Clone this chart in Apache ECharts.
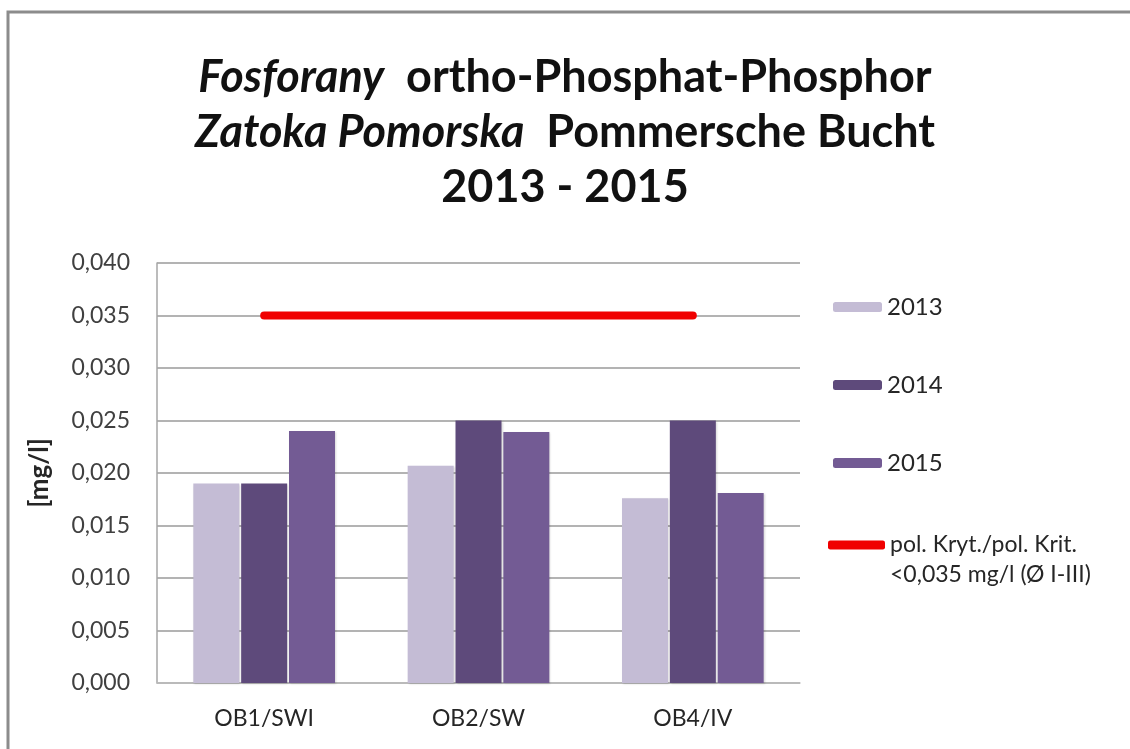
<!DOCTYPE html>
<html>
<head>
<meta charset="utf-8">
<title>Fosforany ortho-Phosphat-Phosphor</title>
<script src="https://cdn.jsdelivr.net/npm/echarts@6/dist/echarts.min.js"></script>
<style>
    html, body { margin: 0; padding: 0; background: #fff; }
    #chart { width: 1130px; height: 749px; }
</style>
</head>
<body>
<div id="chart"></div>
<script>
/**
 * data
 */
const categories = ['OB1/SWI', 'OB2/SW', 'OB4/IV'];
const values2013 = [0.019, 0.0207, 0.0176];
const values2014 = [0.019, 0.025, 0.025];
const values2015 = [0.024, 0.0239, 0.0181];
const limitValues = [0.035, 0.035, 0.035];
const limitName = 'pol. Kryt./pol. Krit.\n<0,035 mg/l (Ø I-III)';

const fontFamily = 'Lato, "Open Sans", sans-serif';
const colors = ['#c4bcd5', '#5e4a7b', '#735b94'];

/**
 * methods
 */
const fmt = (v) => v.toFixed(3).replace('.', ',');

const barSeries = (name, data, color) => ({
    name: name,
    type: 'bar',
    data: data,
    barWidth: 46,
    barGap: '4%',
    itemStyle: {
        color: color,
        shadowColor: 'rgba(0,0,0,0.15)',
        shadowBlur: 2,
        shadowOffsetX: 1,
        shadowOffsetY: 1,
    },
});

const option = {
    backgroundColor: '#fff',
    animation: false,
    textStyle: { fontFamily: fontFamily },
    title: {
        left: 'center',
        top: 50,
        padding: 0,
        text: '{i|Fosforany}  ortho-Phosphat-Phosphor\n{i|Zatoka Pomorska}  Pommersche Bucht\n2013 - 2015',
        textStyle: {
            fontFamily: fontFamily,
            fontSize: 45,
            fontWeight: 'bold',
            color: '#111',
            lineHeight: 55,
            rich: {
                i: {
                    fontFamily: fontFamily,
                    fontSize: 45,
                    fontWeight: 'bold',
                    fontStyle: 'italic',
                    color: '#111',
                    lineHeight: 55,
                },
            },
        },
    },
    legend: [
        {
            orient: 'vertical',
            left: 833,
            top: 293,
            padding: 0,
            itemWidth: 49,
            itemHeight: 10,
            itemGap: 50,
            data: ['2013', '2014', '2015'],
            textStyle: { fontFamily: fontFamily, fontSize: 24, lineHeight: 28, color: '#262626' },
        },
        {
            // leading blank line keeps the icon level with the first text line
            orient: 'vertical',
            left: 828,
            top: 500,
            padding: 0,
            itemWidth: 57,
            itemHeight: 9,
            data: [{ name: limitName, icon: 'roundRect' }],
            formatter: (name) => '\n' + name,
            textStyle: {
                fontFamily: fontFamily,
                fontSize: 23,
                lineHeight: 30,
                color: '#262626',
            },
        },
    ],
    grid: {
        left: 157,
        right: 330,
        top: 263,
        bottom: 66,
        containLabel: false,
    },
    xAxis: {
        type: 'category',
        data: categories,
        axisLine: { lineStyle: { color: '#bdbdbd', width: 1.5 } },
        axisTick: { show: false },
        axisLabel: { color: '#262626', fontSize: 23, margin: 24, fontFamily: fontFamily },
    },
    yAxis: {
        type: 'value',
        min: 0,
        max: 0.04,
        interval: 0.005,
        name: '[mg/l]',
        nameLocation: 'middle',
        nameRotate: 90,
        nameGap: 104,
        nameTextStyle: { fontSize: 26, fontWeight: 'bold', color: '#262626', fontFamily: fontFamily },
        axisLine: { show: true, lineStyle: { color: '#a6a6a6', width: 1.5 } },
        axisTick: { show: false },
        axisLabel: { color: '#404040', fontSize: 23, margin: 27, formatter: fmt, fontFamily: fontFamily },
        splitLine: { lineStyle: { color: '#9a9a9a', width: 1.5 } },
    },
    series: [
        barSeries('2013', values2013, colors[0]),
        barSeries('2014', values2014, colors[1]),
        barSeries('2015', values2015, colors[2]),
        {
            name: limitName,
            type: 'line',
            data: limitValues,
            symbol: 'none',
            z: 5,
            color: '#f00000',
            lineStyle: { color: '#f00000', width: 8, cap: 'round' },
            itemStyle: { color: '#f00000' },
        },
    ],
    graphic: [
        {
            // outer frame (left + top edge)
            type: 'polyline',
            shape: { points: [[8, 749], [8, 12], [1130, 12]] },
            style: { stroke: '#8c8c8c', lineWidth: 3, fill: null },
            silent: true,
        },
    ],
};

/**
 * init
 */
const myChart = echarts.init(document.getElementById('chart'));
myChart.setOption(option);
window.addEventListener('resize', () => myChart.resize());
</script>
</body>
</html>
